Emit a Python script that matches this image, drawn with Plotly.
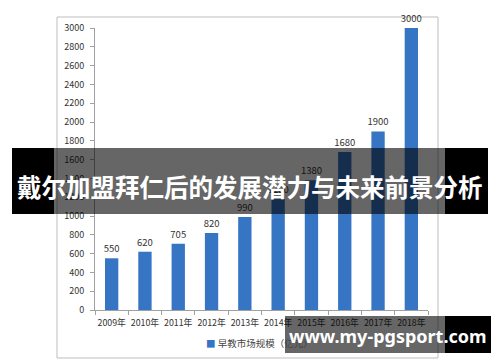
import plotly.graph_objects as go

years = ["2009年", "2010年", "2011年", "2012年", "2013年", "2014年", "2015年", "2016年", "2017年", "2018年"]
values = [550, 620, 705, 820, 990, 1180, 1380, 1680, 1900, 3000]
series_name = "早教市场规模（亿元）"
title_text = "戴尔加盟拜仁后的发展潜力与未来前景分析"
watermark = "www.my-pgsport.com"

W, H = 500, 362
L, R, T, B = 95, 72, 28, 52
pw, ph = W - L - R, H - T - B

def px(x):
    return (x - L) / pw

def py(y):
    return (H - B - y) / ph

font_cjk = "Noto Sans CJK SC, Noto Sans, sans-serif"
bar_color = "#3674c4"

fig = go.Figure()
fig.add_trace(go.Bar(
    x=years, y=values, name=series_name,
    marker=dict(color=bar_color, line=dict(width=0)),
    text=[str(v) for v in values], textposition="outside", constraintext="none",
    textfont=dict(size=9.5, color="#333333", family=font_cjk),
    cliponaxis=False, showlegend=False,
))

shapes = []
# chart frame
shapes.append(dict(type="rect", xref="paper", yref="paper", x0=px(57), x1=px(438), y0=py(358), y1=py(17),
                   line=dict(color="#bdbdbd", width=1), fillcolor="rgba(0,0,0,0)", layer="below"))
# title banner
shapes.append(dict(type="rect", xref="paper", yref="paper", x0=px(12), x1=px(54), y0=py(214), y1=py(148),
                   line=dict(width=0), fillcolor="#000000", layer="above"))
shapes.append(dict(type="rect", xref="paper", yref="paper", x0=px(445), x1=px(488), y0=py(214), y1=py(148),
                   line=dict(width=0), fillcolor="#000000", layer="above"))
shapes.append(dict(type="rect", xref="paper", yref="paper", x0=px(54), x1=px(445), y0=py(214), y1=py(148),
                   line=dict(width=0), fillcolor="rgba(0,0,0,0.6)", layer="above"))
# watermark banner
shapes.append(dict(type="rect", xref="paper", yref="paper", x0=px(285), x1=px(445), y0=py(353), y1=py(316),
                   line=dict(width=0), fillcolor="rgba(0,0,0,0.6)", layer="above"))
shapes.append(dict(type="rect", xref="paper", yref="paper", x0=px(445), x1=px(491), y0=py(353), y1=py(316),
                   line=dict(width=0), fillcolor="#000000", layer="above"))

annotations = [
    dict(text='<span style="color:%s">■</span> %s' % (bar_color, series_name), xref="paper", yref="paper",
         x=px(204), y=py(343), xanchor="left", yanchor="middle", showarrow=False,
         font=dict(size=9.5, color="#444444", family=font_cjk)),
    dict(text="<b>" + title_text + "</b>", xref="paper", yref="paper", x=px(250), y=py(186),
         xanchor="center", yanchor="middle", showarrow=False,
         font=dict(size=24.5, color="white", family=font_cjk)),
    dict(text="<b>" + watermark + "</b>", xref="paper", yref="paper", x=px(388), y=py(336),
         xanchor="center", yanchor="middle", showarrow=False,
         font=dict(size=18, color="white", family="Noto Sans, Open Sans, sans-serif")),
]

fig.update_layout(
    width=W, height=H,
    margin=dict(l=L, r=R, t=T, b=B, pad=0),
    paper_bgcolor="white", plot_bgcolor="white",
    bargap=0.6,
    showlegend=False,
    font=dict(family=font_cjk, size=9, color="#333333"),
    xaxis=dict(showline=True, linecolor="#a0a0a0", linewidth=1, ticks="outside", tickson="boundaries",
               ticklen=4, tickcolor="#a0a0a0", showgrid=False, tickangle=0, ticklabelstandoff=4,
               tickfont=dict(size=8.8, color="#333333"), fixedrange=True),
    yaxis=dict(range=[0, 3000], dtick=200, showline=True, linecolor="#a0a0a0", linewidth=1,
               ticks="outside", ticklen=4, tickcolor="#a0a0a0", showgrid=False, zeroline=False,
               ticklabelstandoff=4,
               tickfont=dict(size=9, color="#333333"), fixedrange=True),
    shapes=shapes,
    annotations=annotations,
)

fig.write_html("out.html")
